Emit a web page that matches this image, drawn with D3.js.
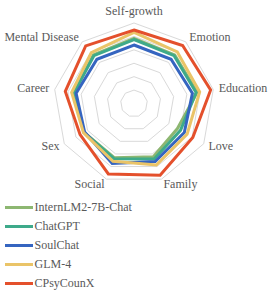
<!DOCTYPE html>
<html>
<head>
<meta charset="utf-8">
<script src="https://cdn.jsdelivr.net/npm/d3@7"></script>
<style>
  body { margin: 0; background: #fff; }
</style>
</head>
<body>
<svg width="276" height="300"></svg>
<script>
var categories = ["Self-growth", "Emotion", "Education", "Love", "Family", "Social", "Sex", "Career", "Mental Disease"];
var seriesNames = ["InternLM2-7B-Chat", "ChatGPT", "SoulChat", "GLM-4", "CPsyCounX"];
var internlm = [4.85, 4.72, 4.78, 3.74, 4.22, 4.30, 4.30, 4.55, 4.72];
var chatgpt  = [4.77, 4.65, 4.70, 4.00, 4.40, 4.38, 4.30, 4.55, 4.65];
var soulchat = [4.36, 4.30, 4.42, 4.33, 4.61, 4.75, 4.25, 4.38, 4.30];
var glm4     = [5.30, 5.02, 4.97, 4.57, 4.88, 4.58, 4.35, 4.72, 4.95];
var cpsy     = [5.48, 5.64, 5.80, 5.06, 5.69, 5.59, 4.64, 5.20, 5.60];
var ringValues = [1, 2, 3, 4, 5, 6];

var FONT = "'Liberation Serif', 'Times New Roman', Times, serif";

var svg = d3.select("svg"),
    cx = 134,
    cy = 103.5,
    radius = 80.5;

var color = d3.scaleOrdinal()
    .domain(seriesNames)
    .range(["#8db771", "#3eaa8a", "#3565c0", "#eac468", "#e4502c"]);

var r = d3.scaleLinear().domain([0, 6]).range([0, radius]);
var angle = d3.scalePoint().domain(categories).range([0, 2 * Math.PI * 8 / 9]);

var series = [internlm, chatgpt, soulchat, glm4, cpsy].map(function(v, i) {
  return { name: seriesNames[i], values: v };
});

var g = svg.append("g").attr("transform", "translate(" + cx + "," + cy + ")");

var radial = d3.lineRadial()
    .angle(function(d, i) { return angle(categories[i]); })
    .radius(function(d) { return r(d); })
    .curve(d3.curveLinearClosed);

// grid rings
g.selectAll(".ring")
    .data(ringValues)
    .enter().append("path")
    .attr("class", "ring")
    .attr("d", function(v) { return radial(categories.map(function() { return v; })); })
    .attr("fill", "none")
    .attr("stroke", "#d9d9d9")
    .attr("stroke-width", 1);

// series
g.selectAll(".series")
    .data(series)
    .enter().append("path")
    .attr("class", "series")
    .attr("d", function(d) { return radial(d.values); })
    .attr("fill", "none")
    .attr("stroke", function(d) { return color(d.name); })
    .attr("stroke-width", 3)
    .attr("stroke-linejoin", "miter");

// category labels
var labelR = radius + 5.5;
g.selectAll(".cat")
    .data(categories)
    .enter().append("text")
    .attr("class", "cat")
    .attr("x", function(d) { return labelR * Math.sin(angle(d)); })
    .attr("y", function(d) {
      var a = angle(d), y = -labelR * Math.cos(a);
      if (Math.abs(Math.sin(a)) < 0.1) y -= 6.5;
      return y;
    })
    .attr("dy", "0.32em")
    .attr("text-anchor", function(d) {
      var s = Math.sin(angle(d));
      return s > 0.1 ? "start" : (s < -0.1 ? "end" : "middle");
    })
    .attr("font-family", FONT)
    .attr("font-size", 12)
    .attr("fill", "#595959")
    .text(function(d) { return d; });

// legend
var legend = svg.append("g")
    .attr("transform", "translate(5,207.5)")
    .selectAll("g")
    .data(seriesNames)
    .enter().append("g")
    .attr("transform", function(d, i) { return "translate(0," + i * 19 + ")"; });

legend.append("line")
    .attr("x1", 0).attr("x2", 28)
    .attr("stroke", function(d) { return color(d); })
    .attr("stroke-width", 3);

legend.append("text")
    .attr("x", 29.5)
    .attr("dy", "0.33em")
    .attr("font-family", FONT)
    .attr("font-size", 12)
    .attr("fill", "#595959")
    .text(function(d) { return d; });
</script>
</body>
</html>
